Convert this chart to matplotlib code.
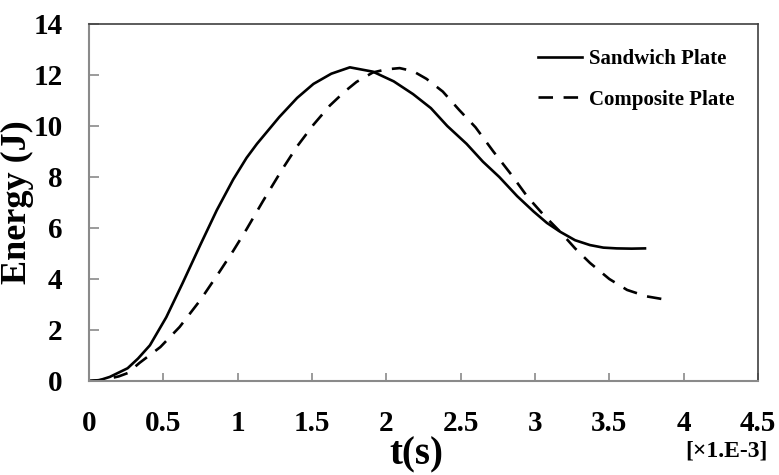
import matplotlib
matplotlib.use("Agg")
import matplotlib.pyplot as plt
from matplotlib.ticker import MultipleLocator

matplotlib.rcParams['font.family'] = 'Liberation Serif'
matplotlib.rcParams['font.weight'] = 'bold'

# time in units of 1e-3 s, energy in J
t_sandwich = [0, 0.07, 0.14, 0.26, 0.33, 0.41, 0.52, 0.63, 0.75, 0.86, 0.97, 1.06,
              1.13, 1.28, 1.40, 1.51, 1.63, 1.755, 1.91, 2.05, 2.18, 2.30, 2.41,
              2.54, 2.65, 2.76, 2.88, 2.99, 3.08, 3.17, 3.27, 3.37, 3.46, 3.55,
              3.65, 3.74]
e_sandwich = [0, 0.03, 0.16, 0.5, 0.88, 1.4, 2.5, 3.84, 5.35, 6.7, 7.9, 8.75,
              9.3, 10.35, 11.1, 11.65, 12.05, 12.3, 12.13, 11.75, 11.25, 10.7, 10.0,
              9.3, 8.6, 8.0, 7.25, 6.65, 6.2, 5.85, 5.52, 5.33, 5.23, 5.2,
              5.19, 5.2]

t_composite = [0, 0.1, 0.2, 0.26, 0.34, 0.48, 0.61, 0.75, 0.88, 0.97, 1.06, 1.17,
               1.30, 1.40, 1.51, 1.62, 1.72, 1.80, 1.91, 2.0, 2.09, 2.18, 2.27,
               2.38, 2.49, 2.60, 2.72, 2.84, 2.95, 3.06, 3.17, 3.27, 3.37, 3.50,
               3.62, 3.75, 3.89]
e_composite = [0, 0.05, 0.18, 0.31, 0.71, 1.33, 2.12, 3.18, 4.3, 5.1, 5.95, 7.05,
               8.3, 9.2, 10.05, 10.8, 11.35, 11.73, 12.1, 12.22, 12.27, 12.15, 11.85,
               11.35, 10.63, 9.95, 9.0, 8.1, 7.22, 6.5, 5.85, 5.2, 4.63, 4.0,
               3.57, 3.32, 3.18]

fig = plt.figure(figsize=(7.79, 4.75), dpi=100)
ax = fig.add_axes([0.1142, 0.1979, 0.8588, 0.7516])

ax.plot(t_sandwich, e_sandwich, color="black", lw=1.9, label="Sandwich Plate")
ax.plot(t_composite, e_composite, color="black", lw=1.9, dashes=(5.5, 4.0),
        label="Composite Plate")

ax.set_xlim(0, 4.5)
ax.set_ylim(0, 14)
ax.yaxis.set_major_locator(MultipleLocator(2))
ax.set_xticks([0, 0.5, 1, 1.5, 2, 2.5, 3, 3.5, 4, 4.5])
ax.set_xticklabels(["0", "0.5", "1", "1.5", "2", "2.5", "3", "3.5", "4", "4.5"])

ax.tick_params(axis="x", direction="in", length=6, width=1.2, color="#8a8a8a",
               labelsize=21, pad=21, top=False)
ax.tick_params(axis="y", direction="in", length=7, width=1.2, color="#8a8a8a",
               labelsize=21, pad=19, right=False)
for side in ("left", "bottom"):
    ax.spines[side].set_color("#8a8a8a")
    ax.spines[side].set_linewidth(1.5)
for side in ("top", "right"):
    ax.spines[side].set_color("#404040")
    ax.spines[side].set_linewidth(1.2)

ax.set_ylabel("Energy (J)", fontsize=26, fontweight="bold")
ax.yaxis.set_label_coords(-0.082, 0.5)
fig.text(0.535, 0.042, "t(s)", fontsize=28, fontweight="bold",
         ha="center", va="center")
fig.text(0.933, 0.05, "[\u00d71.E-3]", fontsize=17, fontweight="bold",
         ha="center", va="center")

ax.legend(loc="upper left", bbox_to_anchor=(0.671, 0.929), frameon=False,
          fontsize=15, handlelength=2.1, handletextpad=0.35, labelspacing=0.97,
          borderpad=0, borderaxespad=0)

fig.savefig("out.png", dpi=100)
